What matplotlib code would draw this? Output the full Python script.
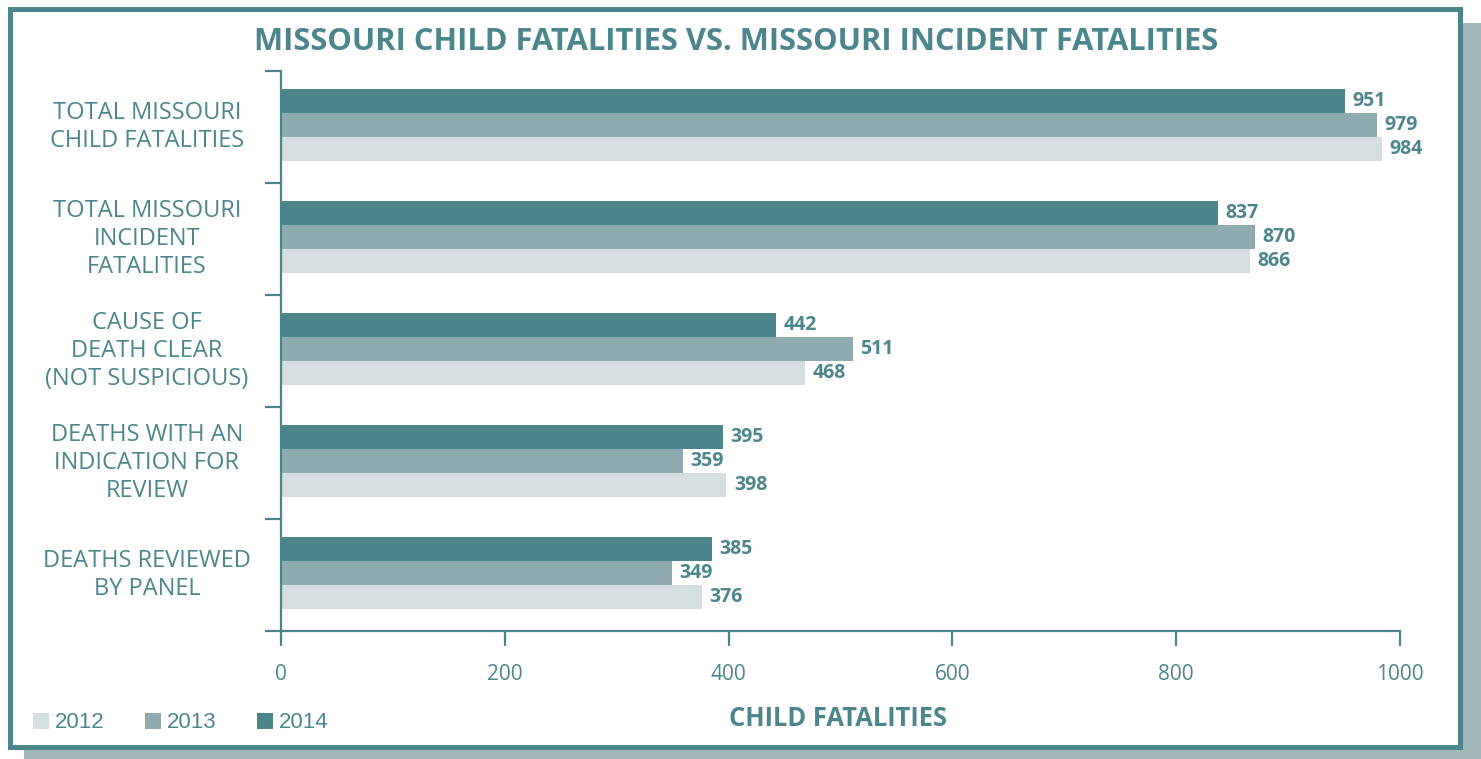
import numpy as np
import matplotlib
matplotlib.use("Agg")
import matplotlib.pyplot as plt
import matplotlib.transforms as mtransforms
from matplotlib.patches import Rectangle

CATEGORIES = [
    "TOTAL MISSOURI\nCHILD FATALITIES",
    "TOTAL MISSOURI\nINCIDENT\nFATALITIES",
    "CAUSE OF\nDEATH CLEAR\n(NOT SUSPICIOUS)",
    "DEATHS WITH AN\nINDICATION FOR\nREVIEW",
    "DEATHS REVIEWED\nBY PANEL",
]
YEARS = ["2012", "2013", "2014"]
V2012 = [984, 866, 468, 398, 376]
V2013 = [979, 870, 511, 359, 349]
V2014 = [951, 837, 442, 395, 385]
XTICKS = [0, 200, 400, 600, 800, 1000]

TEAL = "#4c868d"
C2013 = "#8fabb0"
C2012 = "#d5dee0"
SHADOW = "#a0b6bb"
FONT = ["Open Sans", "DejaVu Sans"]

W, H = 1481, 759
fig = plt.figure(figsize=(W / 100, H / 100), dpi=100)

# ── frame + shadow ───────────────────────────────────────────────────────────
def px_rect(x0, y0, x1, y1, color, z):
    # pixel coords from top-left
    fig.patches.append(Rectangle((x0 / W, 1 - y1 / H), (x1 - x0) / W, (y1 - y0) / H,
                                 transform=fig.transFigure, color=color, lw=0, zorder=z))

px_rect(24, 23, W, H, SHADOW, -5)
px_rect(8, 7, 1463, 750, TEAL, -4)
px_rect(13, 12, 1458, 745, "white", -3)

# ── axes ─────────────────────────────────────────────────────────────────────
ax = fig.add_axes([281 / W, 1 - 631 / H, 1119 / W, 560 / H])
ax.patch.set_alpha(0)

y = np.arange(len(CATEGORIES))
h = 0.214
sh = -0.018
ax.barh(y - h + sh, V2014, height=h, color=TEAL, lw=0)
ax.barh(y + sh, V2013, height=h, color=C2013, lw=0)
ax.barh(y + h + sh, V2012, height=h, color=C2012, lw=0)

for vals, off in [(V2014, -h), (V2013, 0), (V2012, h)]:
    for yi, v in zip(y, vals):
        ax.annotate(str(v), (v, yi + off + sh), xytext=(5.5, 0), textcoords="offset points",
                    ha="left", va="center", fontsize=14, fontweight="bold",
                    color=TEAL, family=FONT)

ax.set_xlim(0, 1000)
ax.set_ylim(len(CATEGORIES) - 0.5, -0.5)
ax.set_xticks(XTICKS)
ax.set_xticklabels([str(t) for t in XTICKS], fontsize=15, color=TEAL, family=FONT)
ax.set_yticks(np.arange(len(CATEGORIES) + 1) - 0.5)
ax.set_yticklabels([])
ax.tick_params(axis="x", direction="out", length=10.8, width=1.6, color=TEAL, pad=13)
ax.tick_params(axis="y", direction="out", length=11.5, width=1.6, color=TEAL)
for s in ["top", "right"]:
    ax.spines[s].set_visible(False)
for s in ["left", "bottom"]:
    ax.spines[s].set_color(TEAL)
    ax.spines[s].set_linewidth(1.6)

# category labels
tr = mtransforms.blended_transform_factory(fig.transFigure, ax.transData)
for yi, lab in zip(y, CATEGORIES):
    fig.text(147 / W, yi, lab, transform=tr, ha="center", va="center",
             fontsize=17, color=TEAL, family=FONT, linespacing=1.22, multialignment="center")

# title + x label
fig.text(736 / W, 1 - 42 / H, "MISSOURI CHILD FATALITIES VS. MISSOURI INCIDENT FATALITIES",
         ha="center", va="center", fontsize=22.2, fontweight="bold", color=TEAL, family=FONT)
fig.text(838 / W, 1 - 718 / H, "CHILD FATALITIES", ha="center", va="center",
         fontsize=18.4, fontweight="bold", color=TEAL, family=FONT)

# legend
for i, (yr, c) in enumerate(zip(YEARS, [C2012, C2013, TEAL])):
    x0 = 33 + i * 112
    px_rect(x0, 713, x0 + 16, 729, c, 2)
    fig.text((x0 + 22) / W, 1 - 722 / H, yr, ha="left", va="center",
             fontsize=16, color=TEAL, family=["Liberation Sans", "DejaVu Sans"])

fig.savefig("out.png", dpi=100)
